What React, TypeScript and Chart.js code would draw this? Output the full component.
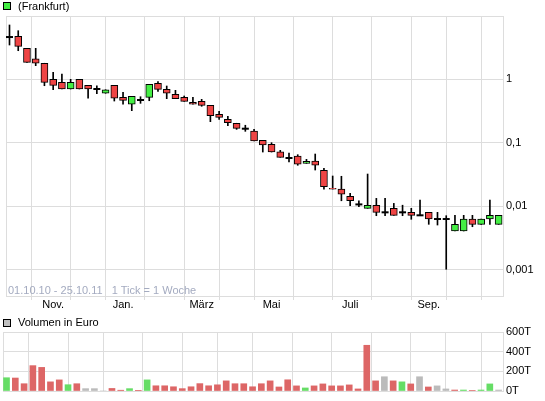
import React, { useEffect, useRef } from 'react';
import { Chart, registerables } from 'chart.js';

Chart.register(...registerables);

// Weekly candles, 01.10.10 - 25.10.11 (index = week number)
const OPEN = [
  4.58, 4.70, 3.04, 2.07, 1.77, 0.989, 0.887, 0.696, 0.989, 0.796,
  0.696, 0.596, 0.796, 0.515, 0.400, 0.467, 0.515, 0.856, 0.688, 0.574,
  0.515, 0.430, 0.445, 0.385, 0.278, 0.232, 0.201, 0.165, 0.152, 0.108,
  0.0937, 0.0716, 0.0570, 0.0613, 0.0470, 0.0511, 0.0365, 0.0190, 0.0185, 0.0142,
  0.0106, 0.0092, 0.0103, 0.00796, 0.0092, 0.00796, 0.00796, 0.00714, 0.00796, 0.00624,
  0.00624, 0.00404, 0.00404, 0.00624, 0.00515, 0.00624, 0.00515,
];
const HIGH = [
  7.09, 5.76, 3.04, 3.04, 1.77, 1.275, 1.20, 0.989, 0.989, 0.796,
  0.784, 0.678, 0.796, 0.618, 0.534, 0.526, 0.825, 0.907, 0.776, 0.664,
  0.540, 0.515, 0.479, 0.385, 0.310, 0.259, 0.201, 0.187, 0.161, 0.108,
  0.0993, 0.0754, 0.0683, 0.0643, 0.0544, 0.0659, 0.0392, 0.0297, 0.0294, 0.0158,
  0.0121, 0.0319, 0.0132, 0.0132, 0.0110, 0.0103, 0.0092, 0.0124, 0.00796, 0.00796,
  0.00704, 0.00714, 0.00714, 0.00714, 0.00624, 0.0124, 0.00714,
];
const LOW = [
  3.43, 2.79, 1.83, 1.62, 0.784, 0.678, 0.696, 0.696, 0.696, 0.497,
  0.587, 0.596, 0.450, 0.400, 0.317, 0.414, 0.455, 0.640, 0.490, 0.490,
  0.445, 0.400, 0.372, 0.213, 0.232, 0.184, 0.161, 0.150, 0.106, 0.0708,
  0.0708, 0.0585, 0.0493, 0.0438, 0.0470, 0.0369, 0.0185, 0.0185, 0.0121, 0.0101,
  0.00975, 0.0092, 0.00704, 0.00704, 0.00714, 0.00704, 0.00618, 0.00714, 0.00515, 0.00502,
  0.00101, 0.00404, 0.00404, 0.00472, 0.00515, 0.00515, 0.00515,
];
const CLOSE = [
  4.58, 3.27, 1.83, 1.77, 0.887, 0.796, 0.696, 0.887, 0.696, 0.696,
  0.696, 0.678, 0.497, 0.462, 0.534, 0.467, 0.825, 0.688, 0.596, 0.490,
  0.445, 0.400, 0.385, 0.264, 0.249, 0.205, 0.167, 0.165, 0.106, 0.0913,
  0.0708, 0.0585, 0.0570, 0.0454, 0.0506, 0.0438, 0.0201, 0.0185, 0.0153, 0.0121,
  0.0106, 0.0103, 0.00796, 0.00796, 0.00714, 0.00796, 0.00714, 0.00714, 0.00624, 0.00624,
  0.00624, 0.00515, 0.00624, 0.00515, 0.00624, 0.00714, 0.00714,
];

// Volume in thousand euro (T) and bar colour class: r = down, g = up, n = unchanged
const VOLUME = [
  135, 132, 74, 258, 240, 93, 113, 64, 74, 24,
  24, 0, 26, 8, 24, 7, 113, 53, 53, 43,
  24, 43, 75, 53, 63, 103, 74, 74, 43, 74,
  103, 41, 114, 52, 31, 52, 72, 52, 52, 62,
  21, 465, 103, 145, 103, 93, 72, 145, 41, 52,
  21, 10, 10, 4, 10, 72, 10,
];
const VOLUME_DIR = [
  'g', 'r', 'r', 'r', 'r', 'r', 'r', 'g', 'r', 'n',
  'n', 'n', 'r', 'r', 'g', 'r', 'g', 'r', 'r', 'r',
  'r', 'r', 'r', 'r', 'r', 'r', 'r', 'r', 'r', 'r',
  'r', 'r', 'r', 'r', 'g', 'r', 'r', 'r', 'r', 'r',
  'r', 'r', 'r', 'n', 'r', 'g', 'r', 'n', 'r', 'n',
  'n', 'r', 'g', 'r', 'g', 'g', 'n',
];

// Month grid positions (week index) and labels
const MONTH_TICKS = [0, 5, 9, 13, 18, 22, 26, 30, 35, 39, 44, 48, 52];
const MONTH_LABELS = ['', 'Nov.', '', 'Jan.', '', 'März', '', 'Mai', '', 'Juli', '', 'Sep.', ''];

const PRICE_TICKS = [0.001, 0.01, 0.1, 1];
const PRICE_LABELS = ['0,001', '0,01', '0,1', '1'];
const PRICE_MIN = 0.000383;
const PRICE_MAX = 9.82;

const VOLUME_TICKS = [0, 200, 400, 600];
const VOLUME_LABELS = ['0T', '200T', '400T', '600T'];

const X_MIN = -0.4;
const X_MAX = 56.5;

const FONT = "'Liberation Sans', Arial, Helvetica, sans-serif";
const GRID = '#dddddd';
const RED = '#ee4444';
const GREEN = '#44ee44';
const VOL_COLORS: Record<string, string> = { r: '#dd6666', g: '#66dd66', n: '#bbbbbb' };

const framePlugin = {
  id: 'frame',
  beforeDatasetsDraw(chart: any) {
    const { ctx, chartArea } = chart;
    ctx.save();
    ctx.strokeStyle = GRID;
    ctx.lineWidth = 1;
    ctx.strokeRect(
      Math.round(chartArea.left) + 0.5,
      Math.round(chartArea.top) + 0.5,
      Math.round(chartArea.right - chartArea.left),
      Math.round(chartArea.bottom - chartArea.top)
    );
    ctx.restore();
  },
};

function findLabel(ticks: number[], labels: string[], v: number) {
  for (let i = 0; i < ticks.length; i++) {
    if (Math.abs(ticks[i] - v) <= Math.abs(ticks[i]) * 1e-6 + 1e-12) return labels[i];
  }
  return '';
}

export default function App() {
  const priceRef = useRef<HTMLCanvasElement>(null);
  const volRef = useRef<HTMLCanvasElement>(null);

  useEffect(() => {
    const idx = OPEN.map((_, i) => i);
    const bodies = idx.filter((i) => OPEN[i] !== CLOSE[i]);
    const dojis = idx.filter((i) => OPEN[i] === CLOSE[i]);

    const xScaleBase = {
      type: 'linear' as const,
      min: X_MIN,
      max: X_MAX,
      offset: false,
      afterBuildTicks: (s: any) => {
        s.ticks = MONTH_TICKS.map((v) => ({ value: v }));
      },
    };

    const price = new Chart(priceRef.current!, {
      type: 'bar',
      data: {
        datasets: [
          {
            type: 'bar',
            label: 'body',
            data: bodies.map((i) => ({ x: i, y: [OPEN[i], CLOSE[i]] })) as any,
            backgroundColor: bodies.map((i) => (CLOSE[i] > OPEN[i] ? GREEN : RED)),
            borderColor: '#000000',
            borderWidth: 1,
            borderSkipped: false,
            barThickness: 7,
            grouped: false,
            order: 0,
          } as any,
          {
            type: 'line',
            label: 'doji',
            data: dojis.map((i) => ({ x: i, y: OPEN[i] })) as any,
            showLine: false,
            pointStyle: 'line',
            pointRadius: 3.5,
            pointBorderWidth: 2,
            pointBorderColor: '#000000',
            pointBackgroundColor: '#000000',
            order: 1,
          } as any,
          {
            type: 'bar',
            label: 'wick',
            data: idx.map((i) => ({ x: i, y: [LOW[i], HIGH[i]] })) as any,
            backgroundColor: '#000000',
            borderWidth: 0,
            barThickness: 1,
            grouped: false,
            order: 2,
          } as any,
        ],
      },
      options: {
        animation: false,
        responsive: false,
        maintainAspectRatio: false,
        layout: { padding: { left: 3, top: 16, right: 0, bottom: 0 } },
        plugins: { legend: { display: false }, tooltip: { enabled: false } },
        scales: {
          x: {
            ...xScaleBase,
            grid: { color: GRID, drawTicks: true, tickLength: 4, tickColor: GRID },
            border: { display: true, color: GRID },
            ticks: {
              autoSkip: false,
              maxRotation: 0,
              minRotation: 0,
              padding: -2,
              color: '#000000',
              font: { family: FONT, size: 11 },
              callback: (v: any) => findLabel(MONTH_TICKS, MONTH_LABELS, Number(v)),
            },
            afterFit: (s: any) => {
              s.height = 19;
            },
          } as any,
          y: {
            type: 'logarithmic',
            position: 'right',
            min: PRICE_MIN,
            max: PRICE_MAX,
            afterBuildTicks: (s: any) => {
              s.ticks = PRICE_TICKS.map((v) => ({ value: v }));
            },
            grid: { color: GRID, drawTicks: false },
            border: { display: true, color: GRID },
            ticks: {
              padding: 3,
              color: '#000000',
              font: { family: FONT, size: 11 },
              callback: (v: any) => findLabel(PRICE_TICKS, PRICE_LABELS, Number(v)),
            },
            afterFit: (s: any) => {
              s.width = 42;
            },
          } as any,
        },
      },
      plugins: [framePlugin],
    });

    const vol = new Chart(volRef.current!, {
      type: 'bar',
      data: {
        datasets: [
          {
            label: 'Volumen in Euro',
            data: idx.map((i) => ({ x: i, y: VOLUME[i] })) as any,
            backgroundColor: idx.map((i) => VOL_COLORS[VOLUME_DIR[i]]),
            borderWidth: 0,
            barThickness: 6,
            grouped: false,
          } as any,
        ],
      },
      options: {
        animation: false,
        responsive: false,
        maintainAspectRatio: false,
        layout: { padding: { left: 3, top: 17, right: 0, bottom: 10 } },
        plugins: { legend: { display: false }, tooltip: { enabled: false } },
        scales: {
          x: {
            ...xScaleBase,
            grid: { color: GRID, drawTicks: false },
            border: { display: true, color: GRID },
            ticks: { display: false },
            afterFit: (s: any) => {
              s.height = 0;
            },
          } as any,
          y: {
            type: 'linear',
            position: 'right',
            min: 0,
            max: 600,
            afterBuildTicks: (s: any) => {
              s.ticks = VOLUME_TICKS.map((v) => ({ value: v }));
            },
            grid: { color: GRID, drawTicks: false },
            border: { display: true, color: GRID },
            ticks: {
              padding: 3,
              color: '#000000',
              font: { family: FONT, size: 11 },
              callback: (v: any) => findLabel(VOLUME_TICKS, VOLUME_LABELS, Number(v)),
            },
            afterFit: (s: any) => {
              s.width = 42;
            },
          } as any,
        },
      },
      plugins: [framePlugin],
    });

    return () => {
      price.destroy();
      vol.destroy();
    };
  }, []);

  const textStyle: React.CSSProperties = {
    position: 'absolute',
    fontFamily: FONT,
    fontSize: 11,
    lineHeight: '13px',
    color: '#000',
    whiteSpace: 'pre',
  };
  const square = (bg: string, top: number): React.CSSProperties => ({
    position: 'absolute',
    left: 3,
    top,
    width: 6,
    height: 6,
    background: bg,
    border: '1px solid #000',
  });

  return (
    <div style={{ position: 'absolute', left: 0, top: 0, width: 545, height: 401, background: '#fff' }}>
      <canvas ref={priceRef} width={545} height={315} style={{ position: 'absolute', left: 0, top: 0, width: 545, height: 315 }} />
      <canvas ref={volRef} width={545} height={86} style={{ position: 'absolute', left: 0, top: 315, width: 545, height: 86 }} />
      <div style={square(GREEN, 2)} />
      <div style={{ ...textStyle, left: 18, top: 0 }}>(Frankfurt)</div>
      <div style={{ ...textStyle, left: 8, top: 284, color: '#a4abc0' }}>{'01.10.10 - 25.10.11   1 Tick = 1 Woche'}</div>
      <div style={square('#c0c0c0', 319)} />
      <div style={{ ...textStyle, left: 18, top: 316 }}>Volumen in Euro</div>
    </div>
  );
}
